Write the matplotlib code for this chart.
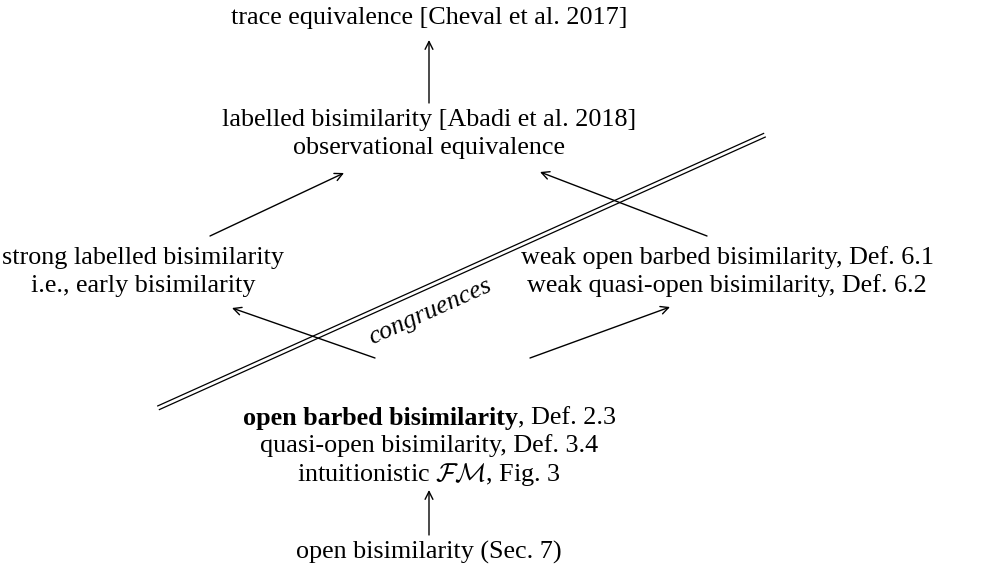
import matplotlib
matplotlib.use("Agg")
import matplotlib.pyplot as plt
import numpy as np

plt.rcParams['font.family'] = ['Liberation Serif', 'DejaVu Serif']
plt.rcParams['mathtext.fontset'] = 'cm'

# ---- content ----
top_label = "trace equivalence [Cheval et al. 2017]"
upper_labels = ["labelled bisimilarity [Abadi et al. 2018]", "observational equivalence"]
left_labels = ["strong labelled bisimilarity", "i.e., early bisimilarity"]
right_labels = ["weak open barbed bisimilarity, Def. 6.1", "weak quasi-open bisimilarity, Def. 6.2"]
center_bold = "open barbed bisimilarity"
center_rest = ", Def. 2.3"
center_labels = ["quasi-open bisimilarity, Def. 3.4", r"intuitionistic $\mathcal{FM}$, Fig. 3"]
bottom_label = "open bisimilarity (Sec. 7)"
divider_label = "congruences"

W, H = 988, 573
fig = plt.figure(figsize=(W / 100, H / 100), dpi=100)
ax = fig.add_axes([0, 0, 1, 1])
ax.set_xlim(0, W)
ax.set_ylim(H, 0)
ax.axis('off')

FS = 18.8
LH = 28
cx = 429

def block(x, y, lines):
    for i, s in enumerate(lines):
        ax.text(x, y + i * LH, s, ha='center', va='center', fontsize=FS)

ax.text(cx, 18, top_label, ha='center', va='center', fontsize=FS)
block(cx, 120, upper_labels)
block(143, 258, left_labels)
block(727, 258, right_labels)
block(cx, 446, center_labels)
ax.text(cx, 552, bottom_label, ha='center', va='center', fontsize=FS)

# mixed bold / regular line
fig.canvas.draw()
r = fig.canvas.get_renderer()
tb = ax.text(0, 418, center_bold, ha='left', va='center', fontsize=FS, fontweight='bold')
tr = ax.text(0, 418, center_rest, ha='left', va='center', fontsize=FS)
wb = tb.get_window_extent(r).width
wr = tr.get_window_extent(r).width
x0 = cx - (wb + wr) / 2
tb.set_x(x0)
tr.set_x(x0 + wb)

arrow_kw = dict(arrowstyle='->', lw=1.0, color='black', shrinkA=0, shrinkB=0,
                mutation_scale=14)

def arrow(p_from, p_to):
    ax.annotate('', xy=p_to, xytext=p_from, arrowprops=arrow_kw)

arrow((cx, 103), (cx, 40))
arrow((210, 236), (344, 173))
arrow((707, 236), (540, 172))
arrow((375, 358), (232, 308))
arrow((530, 358), (670, 307))
arrow((cx, 535), (cx, 490))

# double line (divider)
p1 = np.array([158.0, 408.0]); p2 = np.array([765.0, 135.0])
d = p2 - p1
n = np.array([d[1], -d[0]]) / np.hypot(*d)
for s in (-2.0, 2.0):
    a = p1 + n * s; b = p2 + n * s
    ax.plot([a[0], b[0]], [a[1], b[1]], color='black', lw=0.9, solid_capstyle='butt')

ang = np.degrees(np.arctan2(-d[1], d[0]))
ax.text(430, 312, divider_label, ha='center', va='center', fontsize=FS,
        style='italic', rotation=ang, rotation_mode='anchor')

fig.savefig('out.png', dpi=100)
